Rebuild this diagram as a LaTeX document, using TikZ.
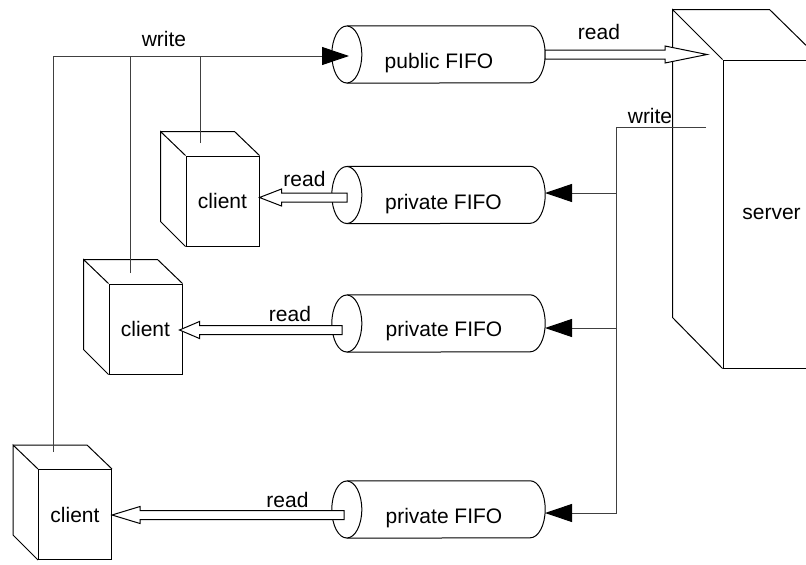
\documentclass[tikz,border=0pt]{standalone}
\usepackage{fontspec}
\setmainfont{Liberation Sans}
\usetikzlibrary{arrows.meta,calc}
\tikzset{
  box/.style={draw=black, line width=1pt},
  conn/.style={draw=black!75, line width=1pt},
  tip/.style={-{Triangle[length=27pt,width=18pt,color=black]}},
  fat/.style={draw=black, fill=white, line width=1pt},
  lbl/.style={font=\fontsize{21}{25}\selectfont, anchor=base, inner sep=0pt},
  fifo/.style={draw=none, minimum width=213pt, minimum height=57pt, inner sep=0pt},
  clientface/.style={box, fill=white, minimum width=73pt, minimum height=90pt, inner sep=0pt, font=\fontsize{21}{25}\selectfont},
  serverface/.style={box, minimum width=97pt, minimum height=308pt, inner sep=0pt, font=\fontsize{21}{25}\selectfont}
}
\newcommand{\fatarrow}[3]{%
  \path (#2) coordinate (fa-tip) ($(#2)!#3!(#1)$) coordinate (fa-base) (#1) coordinate (fa-start);
  \draw[fat] ([yshift=4.5pt]fa-start) -- ([yshift=4.5pt]fa-base) -- ([yshift=8.5pt]fa-base) -- (fa-tip)
    -- ([yshift=-8.5pt]fa-base) -- ([yshift=-4.5pt]fa-base) -- ([yshift=-4.5pt]fa-start) -- cycle;}
\newcommand{\cylout}[1]{%
  \draw[box] ([xshift=15pt]#1.north west) -- ([xshift=-15pt]#1.north east)
    arc[start angle=-90, end angle=90, x radius=15, y radius=28.5] -- ([xshift=15pt]#1.south west);
  \draw[box, fill=white] ([xshift=15pt]#1.west) ellipse [x radius=15, y radius=28.5];}
\newcommand{\clientback}[1]{%
  \draw[box] (#1.north west) -- ++(-25,-24) -- ++(0,90) -- (#1.south west);
  \draw[box] (#1.north west) ++(-25,-24) -- ++(74,0) -- (#1.north east);}
\begin{document}
\begin{tikzpicture}[x=1pt,y=-1pt]
\useasboundingbox (0,0) rectangle (806,565);

% FIFOs
\node[fifo] (pub) at (438.5,54.5) {};
\node[fifo] (pf1) at (438.5,195) {};
\node[fifo] (pf2) at (438.5,323.5) {};
\node[fifo] (pf3) at (438.5,509.5) {};
\cylout{pub}\cylout{pf1}\cylout{pf2}\cylout{pf3}
\node[lbl] (pubtxt) at (439,68) {public FIFO};
\node[lbl] (pf1txt) at (443.5,209) {private FIFO};
\node[lbl] (pf2txt) at (444,336) {private FIFO};
\node[lbl] (pf3txt) at (444,523) {private FIFO};

% clients
\node[clientface] (c1) at (222.5,201) {client};
\node[clientface] (c2) at (145.5,329) {client};
\node[clientface] (c3) at (75,514.5) {client};
\clientback{c1}\clientback{c2}\clientback{c3}

% server
\node[serverface] (srv) at (771.5,214) {server};
\draw[box] (srv.north west) -- ++(-50,-50) -- ++(0,308) -- (srv.south west);
\draw[box] (srv.north west) ++(-50,-50) -- ++(97,0) -- (srv.north east);

% client write connectors to public FIFO
\coordinate (c1w) at (200,143);
\coordinate (c2w) at (130,273);
\coordinate (c3w) at (53,452);
\coordinate (pubin) at (349,56);
\draw[conn, tip] (c3w) |- (pubin);
\draw[conn] (c2w) -- (c2w |- pubin);
\draw[conn] (c1w) -- (c1w |- pubin);
\node[lbl] (wtop) at (164,46) {write};

% server write connectors to private FIFOs
\coordinate (srvw) at (706,127);
\coordinate (bus) at (616,127);
\coordinate (p1in) at (545,193);
\coordinate (p2in) at (545,328);
\coordinate (p3in) at (545,513);
\draw[conn, tip] (srvw) -- (bus) |- (p3in);
\draw[conn, tip] (bus |- p1in) -- (p1in);
\draw[conn, tip] (bus |- p2in) -- (p2in);
\node[lbl] (wsrv) at (650,123) {write};

% read arrows
\coordinate (srvr) at (707,54.5);
\fatarrow{pub.east}{srvr}{42pt}
\node[lbl] (rpub) at (599,39) {read};

\coordinate (r1s) at (347,197.5);
\coordinate (r1t) at (c1.east |- r1s);
\fatarrow{r1s}{r1t}{22pt}
\node[lbl] (r1) at (304.5,186) {read};

\coordinate (r2s) at (342,330);
\coordinate (r2t) at ([xshift=-3pt]c2.east |- r2s);
\fatarrow{r2s}{r2t}{20pt}
\node[lbl] (r2) at (290,321) {read};

\coordinate (r3s) at (344,515);
\coordinate (r3t) at (c3.east |- r3s);
\fatarrow{r3s}{r3t}{28pt}
\node[lbl] (r3) at (287.5,507) {read};
\end{tikzpicture}
\end{document}
